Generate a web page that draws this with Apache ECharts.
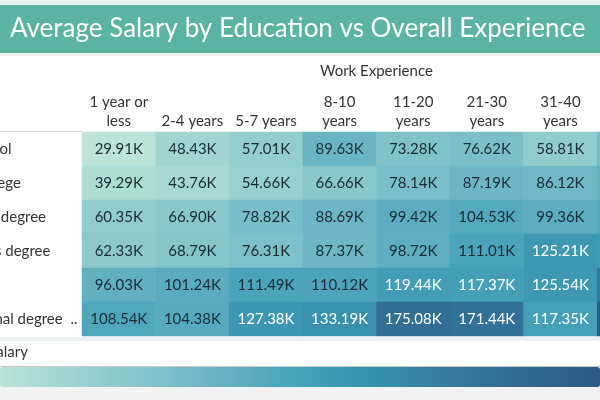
<!DOCTYPE html>
<html>
<head>
<meta charset="utf-8">
<script src="https://cdn.jsdelivr.net/npm/echarts@6/dist/echarts.min.js"></script>
<style>
html,body{margin:0;padding:0;background:#fff;}
#chart{width:600px;height:400px;}
</style>
</head>
<body>
<div id="chart"></div>
<script>
// ---- data ----
var experience = ['1 year or\nless', '2-4 years', '5-7 years', '8-10\nyears', '11-20\nyears', '21-30\nyears', '31-40\nyears', '41-50\nyears'];
var education = ['High school', 'Some college', 'Associate degree', "Bachelor's degree", "Master's", 'Professional degree (JD, MD, etc.)'];
var highSchool   = [29.91, 48.43, 57.01, 89.63, 73.28, 76.62, 58.81, 80.00];
var someCollege  = [39.29, 43.76, 54.66, 66.66, 78.14, 87.19, 86.12, 95.00];
var associate    = [60.35, 66.90, 78.82, 88.69, 99.42, 104.53, 99.36, 105.00];
var bachelor     = [62.33, 68.79, 76.31, 87.37, 98.72, 111.01, 125.21, 122.00];
var master       = [96.03, 101.24, 111.49, 110.12, 119.44, 117.37, 125.54, 165.00];
var professional = [108.54, 104.38, 127.38, 133.19, 175.08, 171.44, 117.35, 200.00];
var rows = [highSchool, someCollege, associate, bachelor, master, professional];

var palette = ['#bce4d8','#aedcd5','#a1d5d2','#95cecf','#89c8cc','#7ec1ca','#72bac6','#66b2c2','#59acbe','#4ba5ba','#419eb6','#3b96b2','#358ead','#3586a7','#347ea1','#32779b','#316f96','#2f6790','#2d608a','#2c5985'];

var FONT = 'Lato';
var data = [];
var vmin = Infinity, vmax = -Infinity;
rows.forEach(function (r, yi) {
  r.forEach(function (v, xi) {
    vmin = Math.min(vmin, v); vmax = Math.max(vmax, v);
    data.push({ value: [xi, yi, v], label: { color: v > 115 ? '#ffffff' : '#1c2b33' } });
  });
});

var chart = echarts.init(document.getElementById('chart'), null, { renderer: 'canvas' });
var cellW = 73.6;
chart.setOption({
  backgroundColor: '#ffffff',
  animation: false,
  graphic: [
    { type: 'rect', shape: { x: 0, y: 0, width: 600, height: 5 }, style: { fill: '#eef2f2' }, z: -1 },
    { type: 'rect', shape: { x: 0, y: 5, width: 600, height: 48 }, style: { fill: '#5ab4a4' }, z: -1 },
    { type: 'text', x: 10, y: 29, style: { text: 'Average Salary by Education vs Overall Experience', fill: '#ffffff', font: '26px ' + FONT, verticalAlign: 'middle' } },
    { type: 'rect', shape: { x: 0, y: 53, width: 600, height: 3 }, style: { fill: '#f3f6f6' }, z: -1 },
    { type: 'line', shape: { x1: 0, y1: 131.5, x2: 82, y2: 131.5 }, style: { stroke: '#d6d6d6', lineWidth: 1 } },
    { type: 'rect', shape: { x: 0, y: 337, width: 600, height: 4 }, style: { fill: '#eef1f1' }, z: -1 },
    { type: 'text', x: -44, y: 352, style: { text: 'Avg. Salary', fill: '#333333', font: '15px ' + FONT, verticalAlign: 'middle' } },
    { type: 'line', shape: { x1: 0, y1: 366.5, x2: 600, y2: 366.5 }, style: { stroke: '#c8c8c8', lineWidth: 1 } },
    { type: 'rect', shape: { x: 0, y: 387, width: 600, height: 13 }, style: { fill: '#f2f2f2' }, z: -1 }
  ],
  grid: { left: 82, top: 132, width: cellW * experience.length, height: 204, outerBoundsMode: 'none', containLabel: false },
  xAxis: {
    type: 'category', position: 'top', data: experience,
    name: 'Work Experience', nameLocation: 'middle', nameGap: 53,
    nameTextStyle: { color: '#333333', fontSize: 15, fontFamily: FONT },
    axisLine: { show: false }, axisTick: { show: false }, splitLine: { show: false },
    axisLabel: { interval: 0, color: '#333333', fontSize: 15, fontFamily: FONT, lineHeight: 19, margin: 1, hideOverlap: false }
  },
  yAxis: {
    type: 'category', inverse: true, data: education,
    axisLine: { show: false }, axisTick: { show: false }, splitLine: { show: false },
    axisLabel: { interval: 0, color: '#333333', fontSize: 15, fontFamily: FONT, align: 'left', margin: 148,
      width: 147, overflow: 'truncate', ellipsis: ' ..' }
  },
  visualMap: {
    type: 'continuous', min: vmin, max: vmax, calculable: false, orient: 'horizontal',
    left: 0, top: 367, itemWidth: 20, itemHeight: 600, padding: 0, text: null, showLabel: false,
    hoverLink: false,
    inRange: { color: palette }
  },
  series: [{
    type: 'heatmap', data: data,
    itemStyle: { borderWidth: 0 },
    emphasis: { disabled: true },
    label: {
      show: true, fontSize: 15, fontFamily: FONT,
      formatter: function (p) { return p.value[2].toFixed(2) + 'K'; }
    }
  }]
});
</script>
</body>
</html>
